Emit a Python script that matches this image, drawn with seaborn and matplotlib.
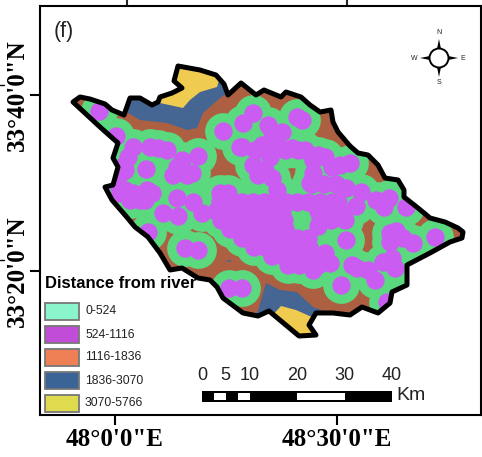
import pandas as pd
import matplotlib.pyplot as plt
from matplotlib.patches import Polygon, Circle, Rectangle
import seaborn as sns

sns.set_style('white')
plt.rcParams['font.family'] = ['Liberation Sans', 'DejaVu Sans']

outline = [(73,102),(80,97),(90,99),(105,104),(112,110),(124,115),(130,98),(140,98),(152,105),(158,102),
           (160,97),(172,93),(182,88),(174,81),(178,66),(200,70),(216,75),(224,84),(228,95),(241,83),
           (256,95),(264,90),(281,97),(286,92),(301,97),(310,105),(320,112),(331,110),(333,122),(338,132),
           (350,146),(358,153),(368,155),(378,165),(385,178),(398,180),(404,190),(404,197),(418,208),(430,218),
           (445,222),(458,228),(463,232),(462,238),(450,242),(430,253),(407,265),(407,285),(392,292),(390,303),
           (378,313),(362,307),(350,315),(333,313),(316,313),(309,325),(316,335),(299,336),(269,311),(258,316),
           (243,313),(223,298),(217,287),(210,280),(198,278),(182,268),(170,270),(160,253),(148,237),(135,227),
           (125,215),(112,200),(105,187),(113,185),(118,167),(113,158),(118,143),(100,127)]
blue_north = [(120,95),(128,113),(140,120),(167,123),(187,130),(197,128),(203,113),(220,98),(232,90),(241,84),(235,60),(170,55)]
yellow_north = [(160,103),(183,108),(190,100),(200,92),(217,87),(222,70),(175,60),(165,85)]
blue_south = [(266,283),(280,290),(297,292),(313,307),(327,312),(355,318),(300,345),(245,322),(258,311),(262,297)]
yellow_south = [(281,306),(296,310),(314,318),(322,342),(290,342),(270,318)]
blue_spot = [(224,261),(231,260),(231,262)]

river_x = [99,116,133,150,158,167,128,124,122,125,146,182,177,173,180,187,192,198,
           118,125,120,133,147,130,140,145,152,177,193,163,178,202,
           223,240,253,243,268,282,272,262,265,297,302,242,255,272,278,285,292,298,305,318,325,350,313,332,340,
           253,265,258,270,272,313,310,277,
           361,356,376,389,384,406,435,390,396,403,413,390,346,325,330,313,352,357,368,375,383,392,395,341,387,
           148,185,198,229,242]
river_y = [111,136,147,147,148,150,157,165,172,170,169,160,167,175,172,175,173,156,
           185,190,193,193,190,200,200,200,193,198,202,213,216,213,
           131,147,113,123,125,132,132,145,150,117,120,147,150,140,147,150,148,150,150,155,157,163,160,167,165,
           165,170,175,157,178,173,183,190,
           192,206,200,198,207,207,237,233,231,238,243,242,240,253,263,270,265,268,270,280,262,258,268,285,302,
           232,248,250,288,288]
mass_x = [220,228,312,324,336,346,
          220,231,242,253,264,275,286,297,308,320,332,338,
          216,227,238,249,260,271,282,318,329,340,
          221,232,243,254,265,276,284,320,331,345,
          230,241,252,263,274,285,318,
          242,253,264,275,286,297,308,
          254,265,276,287,298,309,
          272,283,294,305,316,
          288,299,310,318]
mass_y = [193,193,184,184,184,188,
          202,202,202,202,202,202,202,202,202,202,202,202,
          211,211,211,211,211,211,211,211,211,211,
          220,220,220,220,220,220,220,220,220,220,
          229,229,229,229,229,229,226,
          238,238,238,238,238,238,238,
          247,247,247,247,247,247,
          256,256,256,256,256,
          265,265,265,265]

legend_title = 'Distance from river'
legend_labels = ['0-524', '524-1116', '1116-1836', '1836-3070', '3070-5766']
legend_colors = ['#8AF5CB', '#C04CD8', '#EF7F55', '#3A6496', '#DEDB4E']
scale_km = [0, 2.5, 5, 7.5, 10, 20, 30, 40]
scale_labels = [0, 5, 10, 20, 30, 40]

df = pd.DataFrame({'x': river_x + mass_x, 'y': river_y + mass_y})

fig = plt.figure(figsize=(4.82, 4.57), dpi=100)
ax = fig.add_axes([40/482, 1-415/457, 441/482, 409/457])
ax.set_xlim(40, 481)
ax.set_ylim(415, 6)

region = Polygon(outline, closed=True, fc='#AD5F42', ec='none', zorder=1)
ax.add_patch(region)
for pts, col in [(blue_north, '#456593'), (yellow_north, '#EFCB50'), (blue_south, '#456593'),
                 (yellow_south, '#EFCB50'), (blue_spot, '#456593')]:
    p = Polygon(pts, closed=True, fc=col, ec='none', zorder=2)
    ax.add_patch(p)
    p.set_clip_path(region)

# buffer band first, then the inner class on top
sns.scatterplot(data=df, x='x', y='y', s=700, color='#5AD97F', linewidth=0, alpha=1, ax=ax, zorder=3)
ax.collections[-1].set_clip_path(region)
sns.scatterplot(data=df, x='x', y='y', s=175, color='#CB5CF2', linewidth=0, alpha=1, ax=ax, zorder=4)
ax.collections[-1].set_clip_path(region)
ax.add_patch(Polygon(outline, closed=True, fc='none', ec='black', lw=3.6, joinstyle='round', zorder=5))

# frame and ticks
for s in ax.spines.values():
    s.set_linewidth(1.5)
    s.set_color('black')
ax.set_xlabel('')
ax.set_ylabel('')
ax.set_xticks([115, 337], ['48°0\'0"E', '48°30\'0"E'], family='Liberation Serif', fontweight='bold', fontsize=18, color='black')
ax.set_yticks([95, 271], ['33°40\'0"N', '33°20\'0"N'], family='Liberation Serif', fontweight='bold', fontsize=18,
              rotation=90, va='center', color='black')
ax.tick_params(axis='both', length=7, width=1.5, color='black', bottom=True, left=True, pad=2)
ax.tick_params(axis='y', pad=1)
top = ax.secondary_xaxis('top')
top.set_xticks([127, 347], ['', ''])
top.tick_params(length=6, width=1.5)
top.spines['top'].set_visible(False)
ax.plot([0, 4], [85, 85], color='black', lw=1, clip_on=False)
ax.plot([0, 4], [260, 260], color='black', lw=1, clip_on=False)

ax.text(54, 32, '(f)', fontsize=15.5, va='center', color='#222222', zorder=6)

# legend
ax.text(45, 283, legend_title, fontsize=12, fontweight='bold', va='center', color='black', zorder=6)
for i, (lab, col) in enumerate(zip(legend_labels, legend_colors)):
    y0 = 303 + i*23
    ax.add_patch(Rectangle((45, y0), 34, 17, fc=col, ec='#777777', lw=1.3, zorder=6))
    ax.text(85, y0+8.5, lab, fontsize=8.7, va='center', color='#222222', zorder=6)

# scale bar
kx = lambda km: 202 + km*4.75
ax.add_patch(Rectangle((kx(0), 391), kx(40)-kx(0), 11, fc='black', ec='none', zorder=6))
for a, b in zip(scale_km[1::2], scale_km[2::2]):
    ax.add_patch(Rectangle((kx(a), 393), kx(b)-kx(a), 7, fc='white', ec='none', zorder=7))
for km in scale_labels:
    ax.text(kx(km), 376, str(km), fontsize=13, ha='center', va='center', color='#222222', zorder=6)
ax.text(396, 395, 'Km', fontsize=14, va='center', color='#222222', zorder=6)

# north arrow
cx, cy = 439, 58
ax.add_patch(Circle((cx, cy), 9.5, fc='white', ec='black', lw=1.4, zorder=6))
for dx, dy in [(0, -1), (0, 1), (-1, 0), (1, 0)]:
    nx, ny = -dy*2, dx*2
    ax.add_patch(Polygon([(cx+dx*9+nx, cy+dy*9+ny), (cx+dx*9-nx, cy+dy*9-ny), (cx+dx*19, cy+dy*19)],
                         closed=True, fc='black', ec='none', zorder=6))
for t, tx, ty in [('N', cx, 33), ('S', cx, 83), ('W', 414, 58), ('E', 463, 58)]:
    ax.text(tx, ty, t, fontsize=5, ha='center', va='center', color='#222222', zorder=6)

plt.savefig('out.png', dpi=100)
